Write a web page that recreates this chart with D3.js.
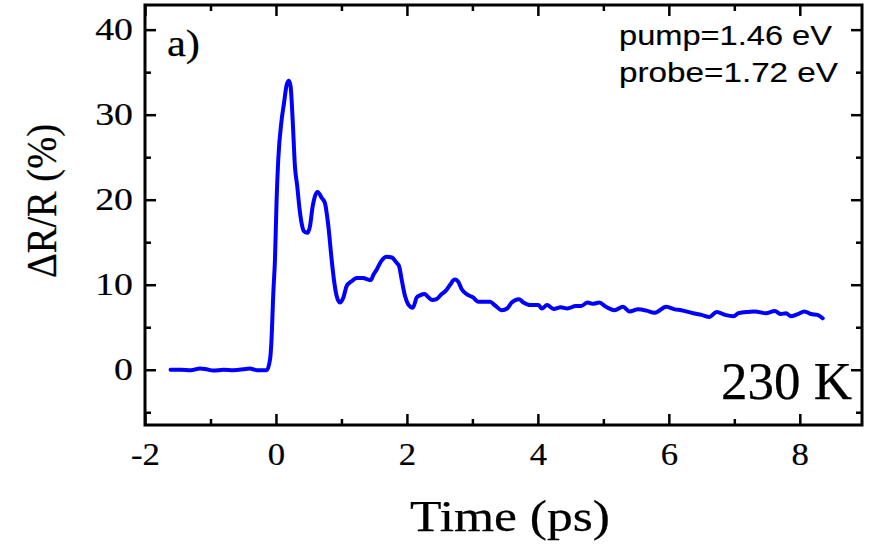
<!DOCTYPE html>
<html>
	<head>
		<meta charset="utf-8">
		<script src="https://cdnjs.cloudflare.com/ajax/libs/d3/7.8.5/d3.min.js" charset="utf-8"></script>
		<style>
			body { margin: 0; background: #fff; }
			.tick text { font-family: "Liberation Serif", "Times New Roman", serif; font-size: 31px; fill: #000; stroke: #000; stroke-width: 0.2px; }
			.tick line { stroke: #000; stroke-width: 2.5px; }
			.serif { font-family: "Liberation Serif", "Times New Roman", serif; fill: #000; stroke: #000; stroke-width: 0.25px; }
			.sans { font-family: "Liberation Sans", Arial, sans-serif; fill: #000; stroke: #000; stroke-width: 0.15px; }
		</style>
	</head>
	<body>
		<div id="chart"></div>
		<script>
			//Data (time in ps, dR/R in %)
			var timePs = [-1.61,-1.45,-1.3,-1.16,-1.06,-0.96,-0.8,-0.65,-0.5,-0.4,-0.29,-0.14,-0.09,-0.07,-0.04,-0.015,0.01,0.035,0.087,0.122,0.163,0.198,0.224,0.255,0.29,0.325,0.356,0.39,0.427,0.478,0.52,0.56,0.595,0.636,0.70,0.748,0.80,0.85,0.885,0.926,0.977,1.03,1.08,1.155,1.23,1.33,1.41,1.45,1.49,1.54,1.61,1.69,1.77,1.84,1.88,1.92,1.97,2.02,2.09,2.15,2.20,2.275,2.33,2.39,2.45,2.53,2.595,2.66,2.73,2.78,2.835,2.91,3.01,3.09,3.19,3.27,3.34,3.45,3.53,3.60,3.71,3.78,3.88,4.01,4.06,4.14,4.24,4.35,4.45,4.58,4.66,4.76,4.83,4.94,5.04,5.17,5.30,5.40,5.53,5.66,5.78,5.96,6.09,6.19,6.37,6.50,6.62,6.73,6.86,6.99,7.06,7.22,7.32,7.48,7.62,7.71,7.79,7.86,7.97,8.07,8.17,8.27,8.35];
			var deltaR = [0,0,-0.05,0.15,0.05,-0.1,0,-0.05,0.05,0.15,-0.05,-0.05,1.25,3.2,9.1,13,20,24.7,29.4,31.3,33.5,34.0,33.3,29.4,23.9,21.6,19.2,17.3,16.3,16.1,16.9,19.2,20.4,20.9,20.2,19.6,16.9,13.0,10.6,8.7,7.9,8.5,9.85,10.4,10.8,10.8,10.6,10.55,11.2,11.8,12.8,13.3,13.2,12.6,12.2,10.6,8.7,7.7,7.3,8.5,8.75,8.9,8.5,8.2,8.3,8.9,9.3,10.0,10.6,10.4,9.5,8.9,8.5,8.0,8.0,8.0,7.6,7.0,7.2,7.9,8.3,7.9,7.6,7.6,7.2,7.6,7.15,7.35,7.2,7.5,7.5,7.9,7.75,7.9,7.4,7.0,7.4,6.85,7.1,6.95,6.7,7.4,7.1,7.0,6.65,6.45,6.2,6.8,6.45,6.3,6.65,6.8,6.85,6.65,6.9,6.55,6.65,6.3,6.55,6.85,6.55,6.45,6.05];

			var xMajor = [-2, 0, 2, 4, 6, 8];
			var xMinor = [-1, 1, 3, 5, 7];
			var yMajor = [0, 10, 20, 30, 40];
			var yMinor = [-5, 5, 15, 25, 35];

			var panelLabel = "a)";
			var tempLabel = "230 K";
			var pumpLabel = "pump=1.46 eV";
			var probeLabel = "probe=1.72 eV";
			var xTitle = "Time (ps)";
			var yTitle = "\u0394R/R (%)";

			var W = 869, H = 549;
			var margin = {top: 5, right: 7, bottom: 124, left: 145};
			var width = W - margin.left - margin.right,
				height = H - margin.top - margin.bottom;

			var svg = d3.select("#chart").append("svg")
				.attr("width", W)
				.attr("height", H);

			var g = svg.append("g")
				.attr("transform", "translate(" + margin.left + "," + margin.top + ")");

			var x = d3.scaleLinear().domain([-2, 8.95]).range([0, width]);
			var y = d3.scaleLinear().domain([-6.5, 42.9]).range([height, 0]);

			//the original text is drawn a bit wider than the font
			function widen(sel, f) {
				sel.each(function() {
					var w = this.getComputedTextLength();
					d3.select(this).attr("textLength", w * f).attr("lengthAdjust", "spacingAndGlyphs");
				});
			}
			function fitTo(sel, len) {
				sel.attr("textLength", len).attr("lengthAdjust", "spacingAndGlyphs");
			}
			var plain = function(d) { return String(d); };

			//Axes: ticks point inward on all four sides
			var bottom = g.append("g").attr("transform", "translate(0," + height + ")")
				.call(d3.axisBottom(x).tickValues(xMajor).tickSize(-11).tickSizeOuter(0).tickPadding(18).tickFormat(plain));
			g.append("g").attr("transform", "translate(0," + height + ")")
				.call(d3.axisBottom(x).tickValues(xMinor).tickSize(-6).tickSizeOuter(0).tickFormat(""));
			var left = g.append("g")
				.call(d3.axisLeft(y).tickValues(yMajor).tickSize(-11).tickSizeOuter(0).tickPadding(12).tickFormat(plain));
			g.append("g")
				.call(d3.axisLeft(y).tickValues(yMinor).tickSize(-6).tickSizeOuter(0).tickFormat(""));

			g.append("g")
				.call(d3.axisTop(x).tickValues(xMajor).tickSize(-11).tickSizeOuter(0).tickFormat(""));
			g.append("g")
				.call(d3.axisTop(x).tickValues(xMinor).tickSize(-6).tickSizeOuter(0).tickFormat(""));
			g.append("g").attr("transform", "translate(" + width + ",0)")
				.call(d3.axisRight(y).tickValues(yMajor).tickSize(-11).tickSizeOuter(0).tickFormat(""));
			g.append("g").attr("transform", "translate(" + width + ",0)")
				.call(d3.axisRight(y).tickValues(yMinor).tickSize(-6).tickSizeOuter(0).tickFormat(""));

			g.selectAll(".domain").remove();
			g.selectAll(".tick text").attr("font-family", null).attr("font-size", null);
			widen(bottom.selectAll(".tick text"), 1.12);
			widen(left.selectAll(".tick text"), 1.22);

			//frame
			g.append("rect")
				.attr("width", width)
				.attr("height", height)
				.style("fill", "none")
				.style("stroke", "#000")
				.style("stroke-width", 3);

			//trace
			var line = d3.line()
				.x(function(d, i) { return x(timePs[i]); })
				.y(function(d) { return y(d); })
				.curve(d3.curveMonotoneX);

			g.append("path")
				.datum(deltaR)
				.attr("d", line)
				.style("fill", "none")
				.style("stroke", "#0000ff")
				.style("stroke-width", 4)
				.style("stroke-linejoin", "round")
				.style("stroke-linecap", "round");

			//labels
			svg.append("text").attr("class", "serif")
				.attr("x", 167).attr("y", 56)
				.style("font-size", "38px")
				.text(panelLabel)
				.call(fitTo, 33);

			svg.append("text").attr("class", "serif")
				.attr("x", 852).attr("y", 399)
				.style("font-size", "53px")
				.style("text-anchor", "end")
				.text(tempLabel);

			svg.append("text").attr("class", "sans")
				.attr("x", 619).attr("y", 45)
				.style("font-size", "27px")
				.text(pumpLabel)
				.call(fitTo, 213);

			svg.append("text").attr("class", "sans")
				.attr("x", 619).attr("y", 82)
				.style("font-size", "27px")
				.text(probeLabel)
				.call(fitTo, 219);

			svg.append("text").attr("class", "serif")
				.attr("x", 410).attr("y", 531)
				.style("font-size", "45px")
				.text(xTitle)
				.call(fitTo, 200);

			svg.append("text").attr("class", "serif")
				.attr("transform", "translate(56,201) scale(1.05,1) rotate(-90)")
				.style("font-size", "41px")
				.style("text-anchor", "middle")
				.text(yTitle)
				.call(fitTo, 154);
		</script>
	</body>
</html>
